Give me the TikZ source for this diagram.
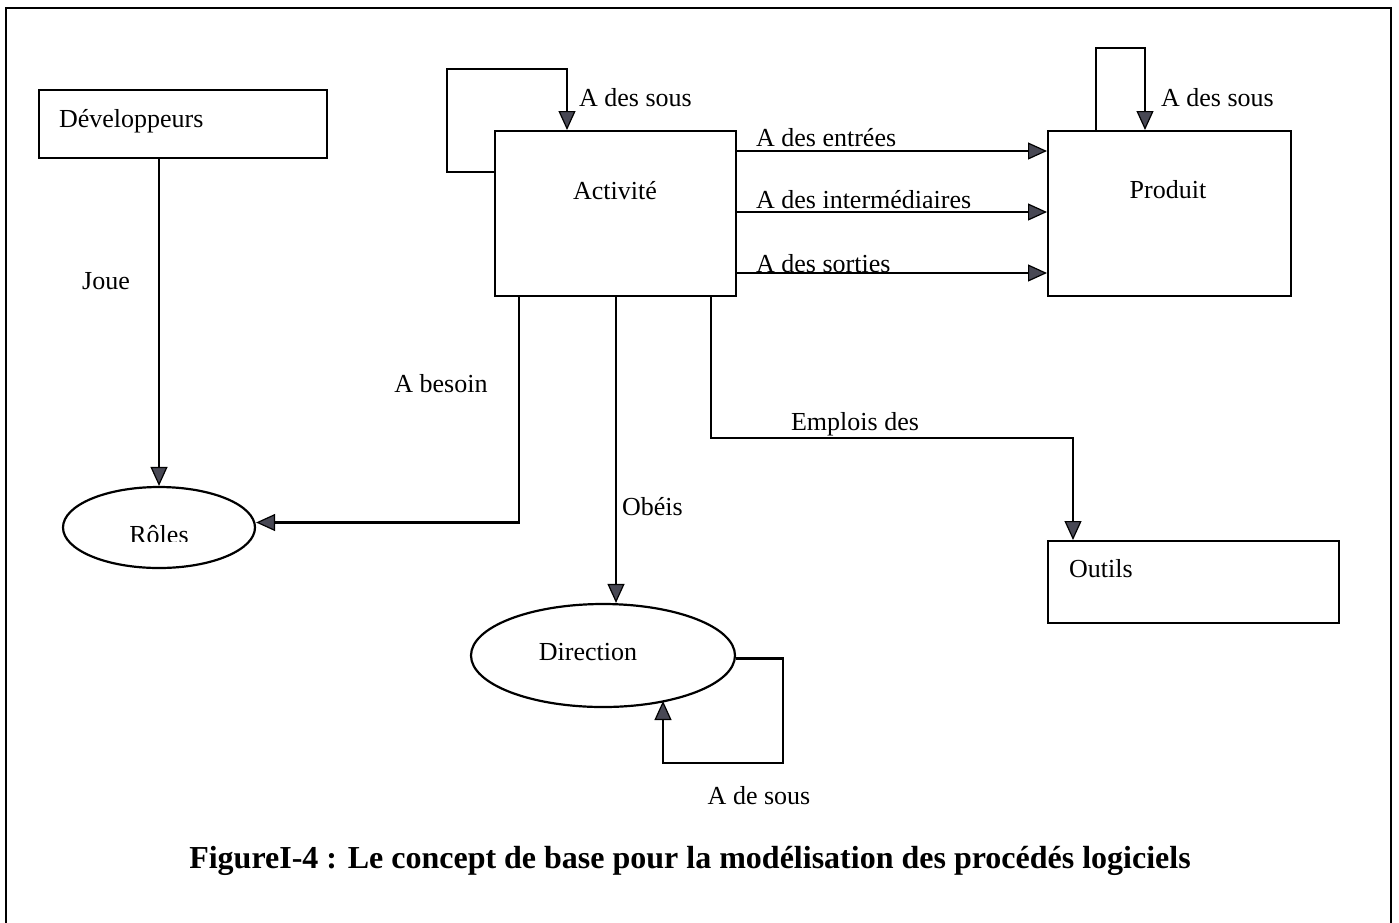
\documentclass[tikz,border=0pt]{standalone}
\usepackage{fontspec}
\setmainfont{Liberation Serif}
\usetikzlibrary{shapes.geometric,arrows.meta,calc}
\definecolor{tipgray}{RGB}{72,72,84}
\begin{document}
\begin{tikzpicture}[x=1pt,y=-1pt,
  line width=2.2pt,
  every node/.style={font=\fontsize{26}{31}\selectfont, inner sep=0pt},
  box/.style={draw, rectangle, anchor=north west, line width=2.2pt},
  oval/.style={draw, ellipse, line width=2.2pt},
  lbl/.style={anchor=west},
  arr/.style={-{Triangle[length=19pt,width=17pt,fill=tipgray,line width=1.2pt]}},
]
\useasboundingbox (0,0) rectangle (1399,922);
\clip (0,0) rectangle (1399,922);

% outer frame (open at the foot of the page)
\draw[line width=2.4pt] (6,8) rectangle (1391,960);

% entities
\node[box, minimum width=288pt, minimum height=68pt] (dev) at (38,89) {};
\node[box, minimum width=241pt, minimum height=165pt] (act) at (494,130) {};
\node[box, minimum width=243pt, minimum height=165pt] (prod) at (1047,130) {};
\node[box, minimum width=291pt, minimum height=82pt] (outils) at (1047,540) {};
\node[oval, minimum width=192pt, minimum height=81pt] (roles) at (159,527.5) {};
\node[oval, minimum width=264pt, minimum height=103pt] (dir) at (603,655.5) {};

% entity names
\node[lbl] (tdev) at (58,121) {Développeurs};
\node (tact) at (615,191) {Activité};
\node (tprod) at (1168,190) {Produit};
\node[lbl] (toutils) at (1068,569) {Outils};
\node (tdir) at (588,652) {Direction};
\begin{scope}
  \clip (100,505) rectangle (220,541);
  \node[anchor=base] (troles) at (159,543) {Rôles};
\end{scope}

% bend points of the connectors
\coordinate (actloopout) at (0,172);
\coordinate (actloop) at (447,69);
\coordinate (actloopin) at (567,0);
\coordinate (prodloop) at (1096,48);
\coordinate (prodloopin) at (1145,0);
\coordinate (entrees) at (0,151);
\coordinate (interm) at (0,212);
\coordinate (sorties) at (0,273);
\coordinate (besoin) at (519,0);
\coordinate (obeis) at (616,0);
\coordinate (emplturn) at (1073,438);
\coordinate (emplx) at (711,0);
\coordinate (dirloop) at (783,763);
\coordinate (dirloopend) at (663,701);

% connectors
\draw[arr] (roles.north |- dev.south) -- (roles.north);
\draw[arr] (act.west |- actloopout) -| (actloop) -| (act.north -| actloopin);
\draw[arr] (prod.north -| prodloop) -- (prodloop) -| (prod.north -| prodloopin);
\draw[arr] (act.east |- entrees) -- (prod.west |- entrees);
\draw[arr] (act.east |- interm) -- (prod.west |- interm);
\draw[arr] (act.east |- sorties) -- (prod.west |- sorties);
\draw[arr] (act.south -| besoin) |- ([yshift=5pt]roles.east);
\draw[arr] (act.south -| obeis) -- (dir.north -| obeis);
\draw[arr] (act.south -| emplx) |- (emplturn) -- (outils.north -| emplturn);
\draw[arr] ([yshift=-3pt]dir.east) -| (dirloop) -| (dirloopend);

% connector labels
\node (ljoue) at (106,281) {Joue};
\node[lbl] (lactsous) at (578,98) {A des sous};
\node[lbl] (lprodsous) at (1160,98) {A des sous};
\node[lbl] (lentrees) at (755,138) {A des entrées};
\node[lbl] (linterm) at (755,200) {A des intermédiaires};
\node[lbl] (lsorties) at (755,264) {A des sorties};
\node (lbesoin) at (441,384) {A besoin};
\node[lbl] (lobeis) at (621,507) {Obéis};
\node[lbl] (lempl) at (790,424) {Emplois des};
\node (ldirsous) at (759,796) {A de sous};

% caption
\node[font=\fontsize{32}{38}\selectfont\bfseries] (caption) at (690,861)
  {FigureI-4 : Le concept de base pour la modélisation des procédés logiciels};
\end{tikzpicture}
\end{document}
